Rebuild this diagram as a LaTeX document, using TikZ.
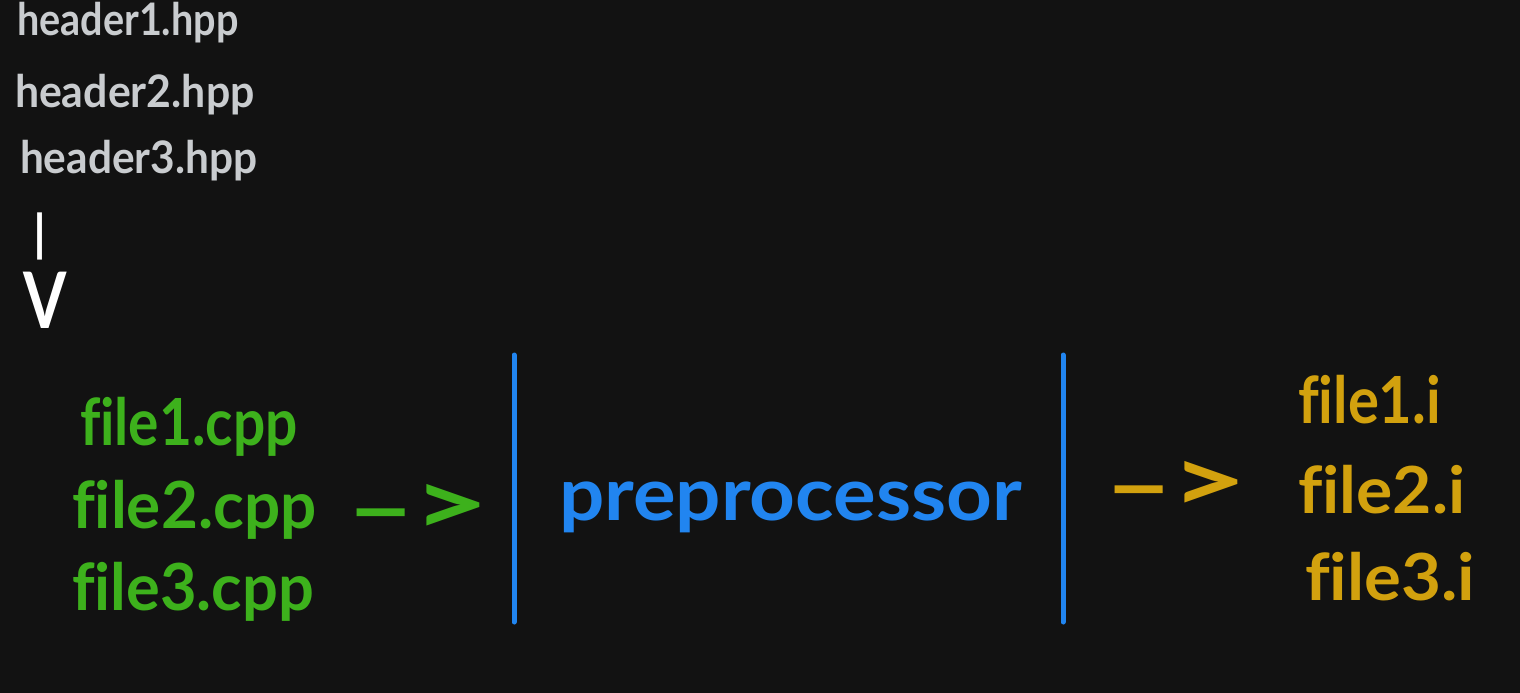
\documentclass[tikz,border=0pt]{standalone}
\usepackage{fontspec}
\setmainfont{Lato}[Ligatures=NoCommon]
\definecolor{bg}{HTML}{121212}
\definecolor{hdr}{HTML}{C9CCCF}
\definecolor{grn}{HTML}{3DB11C}
\definecolor{blu}{HTML}{2185F0}
\definecolor{ylw}{HTML}{D2A10E}
\newcommand\wtxt[2]{\scalebox{#1}[1.12]{#2}}
\newcommand\arrtxt{\scalebox{3.2}[1.3]{-}\kern-3pt\scalebox{2.3}[1.55]{>}}
\tikzset{
  lbl/.style={inner sep=0pt, outer sep=0pt, anchor=base west},
  hdrtext/.style={lbl, text=hdr, font=\fontsize{40}{40}\selectfont\bfseries},
  cpptext/.style={lbl, text=grn, font=\fontsize{58}{58}\selectfont\bfseries},
  itext/.style={lbl, text=ylw, font=\fontsize{58}{58}\selectfont\bfseries},
  arrowtext/.style={inner sep=0pt, font=\fontsize{58}{58}\selectfont\bfseries},
  sepline/.style={draw=blu, line width=5pt, line cap=round}
}
\begin{document}
\begin{tikzpicture}[x=1pt,y=-1pt]
\fill[bg] (0,0) rectangle (1520,693);
\useasboundingbox (0,0) rectangle (1520,693);
% headers
\node[hdrtext] (h1) at (17,36) {\wtxt{0.99}{header1.hpp}};
\node[hdrtext] (h2) at (15,107) {\wtxt{1.07}{header2.hpp}};
\node[hdrtext] (h3) at (20,173) {\wtxt{1.06}{header3.hpp}};
% down arrow as text
\node[inner sep=0pt, text=white, font=\fontsize{50}{50}\selectfont\bfseries] (bar) at (40,236) {|};
\node[inner sep=0pt, text=white, font=\fontsize{78}{78}\selectfont\bfseries] (vee) at (45,300) {\scalebox{0.8}[1]{V}};
% sources
\node[cpptext] (f1) at (80,445) {\wtxt{0.98}{file1.cpp}};
\node[cpptext] (f2) at (72,528) {\wtxt{1.10}{file2.cpp}};
\node[cpptext] (f3) at (72,610) {\wtxt{1.09}{file3.cpp}};
% arrow text
\node[arrowtext, text=grn] (a1) at (418,510) {\arrtxt};
\node[arrowtext, text=ylw] (a2) at (1176,487) {\arrtxt};
% preprocessor
\coordinate (l1) at (514,355);
\coordinate (l2) at (514,622);
\coordinate (r1) at (1063,355);
\coordinate (r2) at (1063,622);
\draw[sepline] (l1) -- (l2);
\draw[sepline] (r1) -- (r2);
\node[lbl, text=blu, font=\fontsize{66}{66}\selectfont\bfseries] (pp) at (559,520) {\scalebox{1.21}[1.12]{preprocessor}};
% outputs
\node[itext] (o1) at (1298,423) {\wtxt{1.0}{file1.i}};
\node[itext] (o2) at (1298,513) {\wtxt{1.17}{file2.i}};
\node[itext] (o3) at (1305,600) {\wtxt{1.19}{file3.i}};
\end{tikzpicture}
\end{document}
